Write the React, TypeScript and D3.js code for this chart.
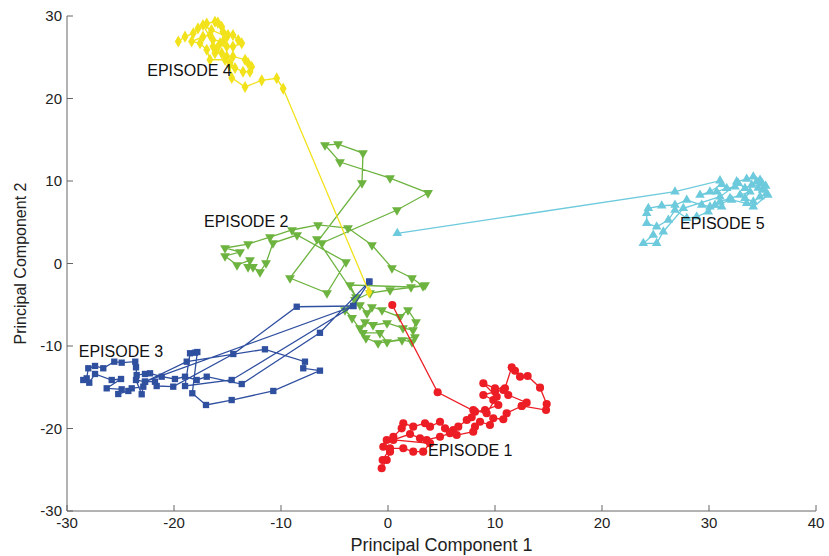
import React from "react";
import * as d3 from "d3";

// Episode trajectories in principal-component space [PC1, PC2]
const episode1: [number, number][] = [
  [0.4, -5.03], [4.64, -15.61], [8.13, -17.96], [9.07, -17.76], [10.31, -17.15], [9.84, -16.55], [8.91, -15.94],
  [10.0, -15.53], [10.78, -15.33], [11.24, -15.94], [12.96, -16.87], [12.5, -17.27], [14.77, -17.76], [14.83, -17.03],
  [14.21, -15.05], [13.05, -13.64], [12.34, -13.72], [11.87, -13.0], [11.56, -12.58], [10.93, -15.13], [10.0, -15.13],
  [8.91, -14.52], [10.16, -16.15], [9.22, -18.15], [7.97, -17.76], [7.82, -18.64], [7.36, -18.97], [6.57, -19.78],
  [6.1, -20.18], [5.33, -19.98], [4.86, -19.18], [3.93, -19.78], [3.46, -19.37], [2.36, -19.78], [1.43, -19.37],
  [1.28, -19.98], [0.5, -21.0], [-0.12, -21.39], [-0.44, -22.21], [0.19, -22.81], [-0.12, -23.82], [-0.59, -24.82],
  [-0.5, -23.82], [0.19, -22.4], [1.43, -22.4], [2.36, -22.81], [3.29, -22.81], [3.93, -21.79], [0.5, -21.39],
  [2.06, -20.67], [2.99, -21.19], [3.62, -21.39], [4.86, -21.0], [5.79, -20.58], [6.42, -20.79], [7.97, -20.39],
  [8.13, -19.78], [8.6, -19.18], [9.53, -19.58], [9.84, -18.76], [10.78, -18.88], [11.09, -18.15], [12.5, -17.27],
];

const episode2: [number, number][] = [
  [-2.62, -5.03], [-1.96, -6.0], [-1.5, -5.27], [-0.56, -5.64], [1.12, -6.48], [1.87, -5.64], [2.62, -7.09],
  [2.34, -8.06], [1.4, -7.82], [-0.09, -7.21], [-1.4, -7.45], [-2.15, -7.09], [-2.62, -7.82], [-2.34, -8.42],
  [-0.75, -8.42], [-0.09, -9.52], [1.31, -9.27], [2.24, -9.52], [2.52, -8.91], [-0.93, -9.64], [-2.06, -9.03],
  [-3.36, -6.6], [-4.02, -5.64], [-3.08, -4.42], [-1.68, -3.58], [0.19, -3.21], [3.27, -2.73], [2.24, -1.76],
  [0.37, -0.55], [-1.5, 2.24], [-3.74, 4.3], [-6.54, 4.67], [-8.97, 4.06], [-11.03, 3.21], [-13.08, 2.36],
  [-15.23, 1.88], [-13.83, 1.39], [-15.23, 0.91], [-14.11, -0.18], [-12.9, 0.42], [-13.08, -0.42], [-12.62, -0.42],
  [-11.96, -1.03], [-11.4, 0.06], [-10.75, 2.48], [-8.5, 3.45], [-3.93, 0.18], [-5.7, -3.58], [-9.16, -1.76],
  [-2.43, 9.76], [-2.34, 13.39], [-4.67, 14.48], [-5.89, 14.36], [-4.49, 12.3], [0.19, 10.36], [3.74, 8.55],
  [0.84, 6.48], [-6.17, 2.48], [-6.64, 2.97], [-2.99, -4.06], [-3.55, -2.61], [2.15, -2.85], [3.46, -2.61],
];

const episode3: [number, number][] = [
  [-1.75, -2.2], [-6.36, -8.4], [-13.67, -14.61], [-16.94, -13.72], [-17.88, -14.12], [-18.97, -13.72],
  [-19.91, -14.0], [-21.15, -13.72], [-22.24, -13.31], [-22.71, -13.39], [-23.49, -13.52], [-23.55, -12.58],
  [-23.62, -11.9], [-24.89, -12.02], [-25.58, -11.9], [-26.61, -12.7], [-27.38, -12.42], [-28.01, -12.7],
  [-28.16, -13.92], [-28.48, -14.12], [-27.92, -14.45], [-27.38, -13.39], [-25.82, -14.12], [-24.95, -14.0],
  [-26.29, -15.13], [-24.89, -15.25], [-25.21, -15.82], [-24.27, -15.45], [-23.95, -15.13], [-22.87, -14.93],
  [-23.02, -15.85], [-23.55, -14.12], [-22.71, -14.33], [-21.78, -14.33], [-21.62, -14.85], [-20.07, -14.93],
  [-14.46, -10.97], [-8.53, -5.24], [-3.24, -5.15], [-14.61, -14.12], [-18.97, -14.85], [-18.5, -10.88],
  [-18.04, -10.81], [-17.82, -10.73], [-18.29, -15.73], [-17.01, -17.15], [-14.61, -16.55], [-10.72, -15.45],
  [-6.36, -12.99], [-7.92, -12.7], [-7.76, -11.9], [-11.5, -10.4], [-18.81, -11.9], [-22.71, -14.33],
  [-3.24, -5.15], [-1.75, -2.2],
];

const episode4: [number, number][] = [
  [-19.6, 26.9], [-18.97, 27.5], [-18.2, 27.9], [-17.76, 28.5], [-16.94, 29.1], [-16.17, 29.3], [-15.9, 29.2],
  [-15.54, 28.7], [-15.42, 28.1], [-14.95, 27.7], [-14.49, 27.7], [-14.0, 27.1], [-13.67, 26.7], [-14.49, 26.3],
  [-15.07, 26.3], [-15.7, 26.7], [-16.36, 26.3], [-16.17, 25.5], [-15.54, 25.5], [-15.07, 25.1], [-14.49, 25.1],
  [-13.36, 24.7], [-13.08, 24.3], [-12.74, 23.85], [-12.9, 23.25], [-13.55, 23.25], [-14.3, 23.7], [-14.77, 24.3],
  [-15.23, 24.7], [-16.64, 24.7], [-16.94, 25.9], [-17.57, 26.7], [-18.35, 26.9], [-17.29, 27.5], [-16.64, 27.7],
  [-16.36, 27.1], [-15.42, 26.9], [-15.07, 27.5], [-16.5, 28.3], [-17.29, 28.9], [-16.0, 26.0], [-14.8, 24.0],
  [-14.6, 22.5], [-13.36, 21.4], [-11.8, 22.2], [-10.4, 22.45], [-9.8, 21.2], [-1.78, -3.45],
];

const episode5: [number, number][] = [
  [0.87, 3.66], [26.82, 8.7], [31.03, 10.04], [31.19, 9.6], [30.09, 8.7], [29.16, 8.3], [30.72, 8.7], [31.65, 9.12],
  [32.43, 9.31], [32.59, 9.92], [33.52, 10.24], [34.14, 10.52], [34.46, 9.92], [34.77, 10.12], [35.07, 9.12],
  [35.39, 8.51], [34.77, 8.1], [34.14, 7.49], [33.36, 7.9], [33.83, 8.7], [32.9, 8.3], [31.96, 7.9], [31.03, 7.49],
  [31.19, 6.88], [30.09, 6.88], [29.32, 7.09], [27.92, 7.7], [26.82, 7.09], [25.58, 7.0], [24.33, 6.69],
  [24.18, 6.08], [24.18, 4.87], [25.11, 4.46], [26.2, 5.27], [26.82, 6.48], [27.92, 5.48], [28.85, 5.67],
  [29.93, 6.28], [30.56, 7.09], [32.12, 7.7], [33.52, 7.3], [34.14, 6.88], [35.5, 8.3], [35.0, 8.9], [34.6, 9.15],
  [34.95, 9.76], [35.3, 9.4], [33.99, 9.52], [33.36, 9.12], [32.74, 9.72], [31.03, 8.1], [27.6, 6.69],
  [25.73, 3.85], [25.11, 2.45], [23.86, 2.45], [24.79, 3.45],
];

const episodeNames = ["EPISODE 1", "EPISODE 2", "EPISODE 3", "EPISODE 4", "EPISODE 5"];
const labelPositions: [number, number][] = [
  [3.74, -22.7], [-17.2, 5.15], [-28.9, -10.7], [-22.5, 23.45], [27.3, 4.9],
];
const xTicks = [-30, -20, -10, 0, 10, 20, 30, 40];
const yTicks = [-30, -20, -10, 0, 10, 20, 30];
const xTitle = "Principal Component 1";
const yTitle = "Principal Component 2";

const W = 829;
const H = 556;
const FONT = "'Liberation Sans', Arial, Helvetica, sans-serif";

export default function App() {
  const x = d3.scaleLinear().domain([-30, 40]).range([67, 816]);
  const y = d3.scaleLinear().domain([-30, 30]).range([511, 16]);
  const line = d3.line<[number, number]>().x((d) => x(d[0])).y((d) => y(d[1]));

  const series = [
    { data: episode2, color: "#6db33f", symbol: d3.symbolTriangle, size: 42, rotate: 180 },
    { data: episode3, color: "#2f4f9f", symbol: d3.symbolSquare, size: 40, rotate: 0 },
    { data: episode4, color: "#f2e21b", symbol: d3.symbolDiamond, size: 42, rotate: 0 },
    { data: episode5, color: "#6ccadc", symbol: d3.symbolTriangle, size: 40, rotate: 0 },
    { data: episode1, color: "#ec1d25", symbol: d3.symbolCircle, size: 52, rotate: 0 },
  ];

  const axisColor = "#666";

  return (
    <svg width={W} height={H} style={{ position: "absolute", left: 0, top: 0, background: "#fff" }}>
      {/* axes */}
      <line x1={x(-30)} x2={x(40)} y1={y(-30)} y2={y(-30)} stroke={axisColor} strokeWidth={1} />
      <line x1={x(-30)} x2={x(-30)} y1={y(-30)} y2={y(30)} stroke={axisColor} strokeWidth={1} />
      {xTicks.map((t) => (
        <g key={"xt" + t}>
          <line x1={x(t)} x2={x(t)} y1={y(-30)} y2={y(-30) - 6} stroke={axisColor} />
          <text x={x(t)} y={y(-30) + 17} textAnchor="middle" fontFamily={FONT} fontSize={15} fill="#222">
            {t}
          </text>
        </g>
      ))}
      {yTicks.map((t) => (
        <g key={"yt" + t}>
          <line x1={x(-30)} x2={x(-30) + 6} y1={y(t)} y2={y(t)} stroke={axisColor} />
          <text x={x(-30) - 5} y={y(t)} dy="0.35em" textAnchor="end" fontFamily={FONT} fontSize={15} fill="#222">
            {t}
          </text>
        </g>
      ))}
      <text x={(x(-30) + x(40)) / 2} y={551} textAnchor="middle" fontFamily={FONT} fontSize={18} fill="#222">
        {xTitle}
      </text>
      <text
        transform={`translate(26, ${(y(-30) + y(30)) / 2}) rotate(-90)`}
        textAnchor="middle"
        fontFamily={FONT}
        fontSize={16}
        fill="#222"
      >
        {yTitle}
      </text>

      {/* series */}
      {series.map((s, i) => {
        const sym = d3.symbol().type(s.symbol).size(s.size)();
        return (
          <g key={"s" + i}>
            <path d={line(s.data) || ""} fill="none" stroke={s.color} strokeWidth={1.3} />
            {s.data.map((d, j) => (
              <path
                key={j}
                d={sym || ""}
                transform={`translate(${x(d[0])},${y(d[1])}) rotate(${s.rotate})`}
                fill={s.color}
              />
            ))}
          </g>
        );
      })}

      {/* episode labels */}
      {episodeNames.map((n, i) => (
        <text
          key={n}
          x={x(labelPositions[i][0])}
          y={y(labelPositions[i][1])}
          dy="0.35em"
          fontFamily={FONT}
          fontSize={16}
          fill="#111"
        >
          {n}
        </text>
      ))}
    </svg>
  );
}
